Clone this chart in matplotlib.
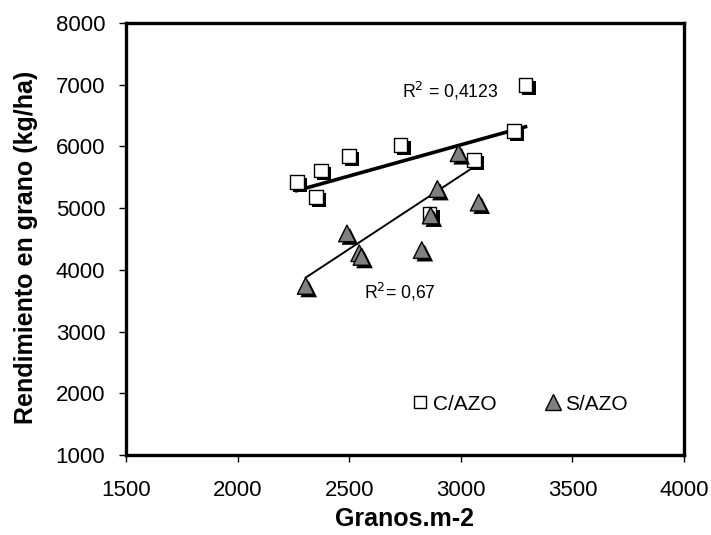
import numpy as np
import matplotlib
matplotlib.use("Agg")
import matplotlib.pyplot as plt
import matplotlib.patheffects as pe
from matplotlib.lines import Line2D

plt.rcParams['font.family'] = ['Liberation Sans', 'DejaVu Sans']

# C/AZO (with nitrogen) points
c_x = [2265, 2375, 2500, 2350, 2730, 2860, 3060, 3240, 3290]
c_y = [5420, 5610, 5850, 5180, 6020, 4910, 5780, 6250, 7000]
# S/AZO (without nitrogen) points
s_x = [2305, 2490, 2545, 2555, 2825, 2865, 2895, 2990, 3080]
s_y = [3740, 4590, 4270, 4210, 4320, 4880, 5310, 5890, 5090]

# trend line coefficients (slope, intercept)
c_trend = (1.01, 2996)
s_trend = (2.38, -1612)

r2_c = "R$^2$ = 0,4123"
r2_s = "R$^2$= 0,67"

xticks = [1500, 2000, 2500, 3000, 3500, 4000]
yticks = [1000, 2000, 3000, 4000, 5000, 6000, 7000, 8000]

fig = plt.figure(figsize=(7.11, 5.35), dpi=100)
ax = fig.add_axes([126/711, 1-455/535, (684-126)/711, (455-23)/535])

shadow = [pe.SimplePatchShadow(offset=(2.2, -2.2), shadow_rgbFace='black', alpha=1.0), pe.Normal()]

# trend lines
xc = np.array([min(c_x), max(c_x)])
ax.plot(xc, c_trend[0]*xc + c_trend[1], color='black', lw=2.6, zorder=2)
xs = np.array([min(s_x), max(s_x)])
ax.plot(xs, s_trend[0]*xs + s_trend[1], color='black', lw=1.4, zorder=2)

sc1 = ax.scatter(c_x, c_y, marker='s', s=10**2, facecolor='white', edgecolor='black',
                 linewidths=1.0, zorder=3)
sc1.set_path_effects(shadow)
sc2 = ax.scatter(s_x, s_y, marker='^', s=12**2, facecolor='#808080', edgecolor='black',
                 linewidths=1.0, zorder=4)
sc2.set_path_effects(shadow)

ax.text(2737, 6892, r2_c, fontsize=12.7, ha='left', va='center')
ax.text(2565, 3636, r2_s, fontsize=12.7, ha='left', va='center')

handles = [Line2D([], [], marker='s', ls='', markersize=9, markerfacecolor='white',
                  markeredgecolor='black', markeredgewidth=1.0, label='C/AZO'),
           Line2D([], [], marker='^', ls='', markersize=11, markerfacecolor='#808080',
                  markeredgecolor='black', markeredgewidth=1.0, label='S/AZO')]
ax.legend(handles=handles, loc='center left', bbox_to_anchor=(0.494, 0.118), ncol=2,
          frameon=False, fontsize=15, handletextpad=0.1, columnspacing=2.2,
          handlelength=1.0, borderaxespad=0)

ax.set_xlim(1500, 4000)
ax.set_ylim(1000, 8000)
ax.set_xticks(xticks)
ax.set_yticks(yticks)
ax.tick_params(labelsize=16, length=5, width=1, direction='out')
ax.tick_params(axis='x', pad=13)
ax.tick_params(axis='y', pad=10)
for s in ax.spines.values():
    s.set_linewidth(2.4)

ax.set_xlabel('Granos.m-2', fontsize=18, fontweight='bold', labelpad=4)
ax.set_ylabel('Rendimiento en grano (kg/ha)', fontsize=18, fontweight='bold')
ax.yaxis.set_label_coords(-0.158, 0.48)

fig.savefig('out.png', dpi=100)
